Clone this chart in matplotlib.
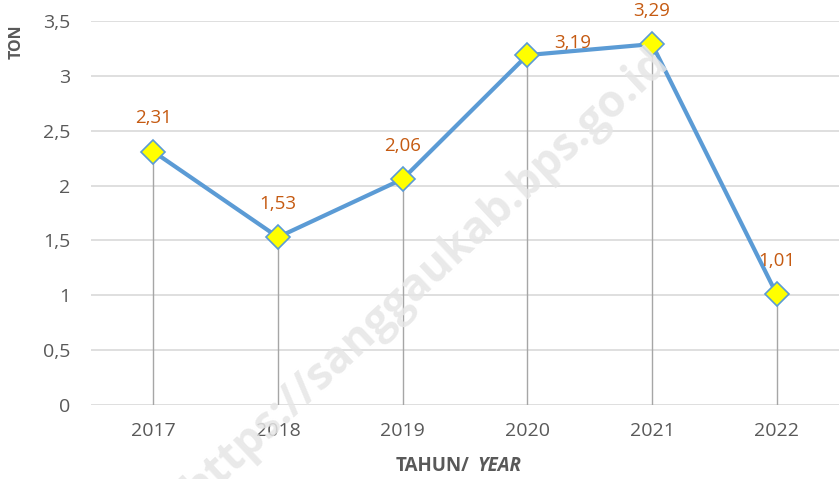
import matplotlib.pyplot as plt

# data
years = ["2017", "2018", "2019", "2020", "2021", "2022"]
ton = [2.31, 1.53, 2.06, 3.19, 3.29, 1.01]
yticks = [0, 0.5, 1, 1.5, 2, 2.5, 3, 3.5]

plt.rcParams['font.family'] = ['Open Sans', 'DejaVu Sans']

fig = plt.figure(figsize=(8.39, 4.79), dpi=100)
ax = fig.add_axes([0.1085, 0.1545, 0.8915, 0.8015])

x = list(range(len(years)))

# grid + drop lines
for t in yticks:
    ax.axhline(t, color="#d9d9d9", lw=1.2, zorder=0)
ax.vlines(x, 0, ton, color="#a6a6a6", lw=1, zorder=1)

ax.plot(x, ton, color="#5b9bd5", lw=3, marker="D", markersize=12,
        markerfacecolor="#ffff00", markeredgecolor="#5b9bd5", markeredgewidth=1.2, zorder=3)

# data labels
for i, v in enumerate(ton):
    lbl = f"{v:.2f}".replace(".", ",")
    off = (33, 9) if i == 3 else (0, 24)
    ax.annotate(lbl, (i, v), xytext=off, textcoords="offset points",
                ha="center", va="center", color="#c55a11", fontsize=13.5)

ax.set_xlim(-0.5, len(years) - 0.5)
ax.set_ylim(0, 3.5)
ax.set_xticks(x)
ax.set_xticklabels(years)
ax.set_yticks(yticks)
ax.set_yticklabels([f"{t:g}".replace(".", ",") for t in yticks])
ax.tick_params(length=0, labelsize=14, labelcolor="#595959")
ax.tick_params(axis="x", pad=12)
ax.tick_params(axis="y", pad=15)
for s in ax.spines.values():
    s.set_visible(False)

# axis titles
fig.text(17 / 839, 1 - 42 / 479, "TON", rotation=90, ha="center", va="center",
         color="#595959", fontsize=11.5, fontweight="bold")
fig.text(470 / 839, 1 - 466 / 479, "TAHUN/", ha="right", va="center",
         color="#595959", fontsize=13.5, fontweight="bold")
fig.text(477 / 839, 1 - 466 / 479, "YEAR", ha="left", va="center",
         color="#595959", fontsize=13.5, fontweight="bold", fontstyle="italic")

# watermark
fig.text(0.508, 0.425, "https://sanggaukab.bps.go.id", rotation=43, ha="center", va="center",
         fontsize=32, fontweight="bold", color="#e6e6e6", alpha=0.85, zorder=0.5)

fig.savefig("out.png", dpi=100)
